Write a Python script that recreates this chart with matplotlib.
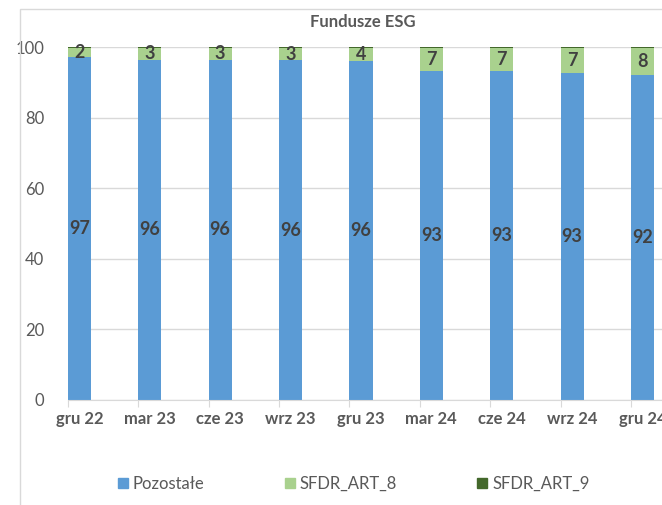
import matplotlib.pyplot as plt
import numpy as np
from matplotlib.lines import Line2D
from matplotlib.patches import Rectangle

CATEGORIES = ["gru 22", "mar 23", "cze 23", "wrz 23", "gru 23", "mar 24", "cze 24", "wrz 24", "gru 24"]
POZOSTALE = [97.25, 96.4, 96.4, 96.3, 96.0, 93.1, 93.1, 92.6, 92.0]
ART_8 = [2.45, 3.3, 3.3, 3.4, 3.7, 6.6, 6.6, 7.1, 7.7]
ART_9 = [0.3, 0.3, 0.3, 0.3, 0.3, 0.3, 0.3, 0.3, 0.3]
SERIES_NAMES = ["Pozostałe", "SFDR_ART_8", "SFDR_ART_9"]
Y_TICKS = [0, 20, 40, 60, 80, 100]

COLORS = ["#5B9BD5", "#A9D18E", "#43682B"]
TEXT = "#595959"
LABEL = "#404040"

plt.rcParams["font.family"] = ["Lato", "DejaVu Sans"]

W, H = 662, 505
fig = plt.figure(figsize=(W / 100, H / 100), dpi=100)

# light chart border, running off the right and bottom edges
fig.patches.append(Rectangle((20 / W, -0.1), 1.2, 1 - 9 / H + 0.1, transform=fig.transFigure,
                             fill=False, edgecolor="#D9D9D9", linewidth=1.0))

px_per_cat = 70.4
x0 = 67.7
ax = fig.add_axes([x0 / W, (H - 400) / H, 9 * px_per_cat / W, 353 / H])

x = np.arange(len(CATEGORIES))
width = 0.33
blue = np.array(POZOSTALE)
green = np.array(ART_8)
dark = np.array(ART_9)

b1 = ax.bar(x, blue, width, align="edge", color=COLORS[0])
b2 = ax.bar(x, green, width, bottom=blue, align="edge", color=COLORS[1])
b3 = ax.bar(x, dark, width, bottom=blue + green, align="edge", color=COLORS[2])

for bars, vals, bottoms in ((b1, blue, np.zeros_like(blue)), (b2, green, blue)):
    for bar, v, b in zip(bars, vals, bottoms):
        ax.text(bar.get_x() + bar.get_width() / 2, b + v / 2, f"{round(v):d}",
                ha="center", va="center", fontsize=13, fontweight="bold", color=LABEL)

ax.set_xlim(0, 9)
ax.set_ylim(0, 100)
ax.set_yticks(Y_TICKS)
ax.set_yticklabels([str(t) for t in Y_TICKS], fontsize=12, color=TEXT)
ax.tick_params(axis="y", length=0, pad=17)
ax.grid(axis="y", color="#D9D9D9", linewidth=1.0)
ax.set_axisbelow(True)

ax.set_xticks(x)
ax.set_xticklabels([])
ax.tick_params(axis="x", which="major", length=5, color="#D9D9D9", direction="out")
ax.set_xticks(x + width / 2, minor=True)
ax.set_xticklabels(CATEGORIES, minor=True, fontsize=12, fontweight="bold", color=TEXT)
ax.tick_params(axis="x", which="minor", length=0, pad=8)

for s in ("left", "right", "top"):
    ax.spines[s].set_visible(False)
ax.spines["bottom"].set_color("#D9D9D9")

fig.text(363 / W, 1 - 22 / H, "Fundusze ESG", ha="center", va="center",
         fontsize=12, fontweight="bold", color=TEXT)

handles = [Line2D([], [], marker="s", linestyle="none", markersize=7.5, color=c) for c in COLORS]
fig.legend(handles, SERIES_NAMES, loc="center", bbox_to_anchor=(352 / W, 1 - 484 / H),
           ncol=3, frameon=False, fontsize=12, labelcolor=TEXT, handletextpad=0.1,
           columnspacing=4.6, handlelength=1.0)

fig.savefig("out.png", dpi=100)
